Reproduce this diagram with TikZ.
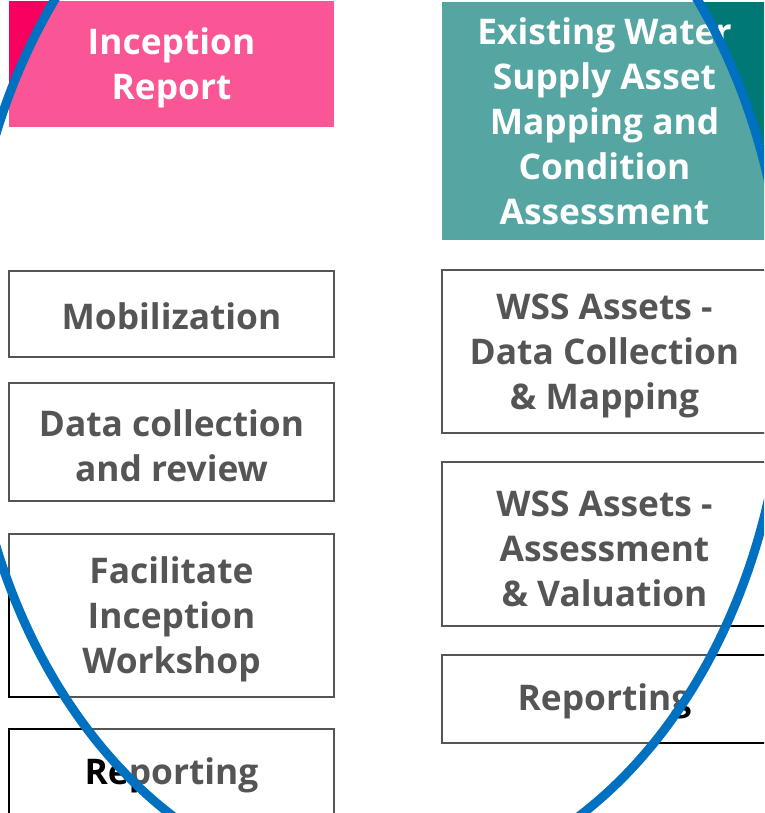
\documentclass[tikz,border=0pt]{standalone}
\usepackage{fontspec}
\setmainfont{Open Sans}
\definecolor{incpink}{RGB}{248,0,96}
\definecolor{assetteal}{RGB}{0,120,118}
\definecolor{ringblue}{RGB}{0,112,192}
\newcommand{\lift}{\rule{0pt}{26pt}}
\tikzset{
  boxfont/.style={font=\bfseries\fontsize{26.5}{33.75}\selectfont},
  stepbox/.style={boxfont, draw=black, line width=1.5pt, fill=white, text=black,
    minimum width=243.75pt, align=center, inner sep=0pt,
    execute at begin node={\rule{0pt}{24pt}}},
  headbox/.style={boxfont, fill=#1, text=white,
    minimum width=243.75pt, align=center, inner sep=0pt}
}

\begin{document}
\begin{tikzpicture}[x=0.75pt, y=-0.75pt]
  \useasboundingbox (0,0) rectangle (764,813);
  \clip (0,0) rectangle (764,813);

  % inception column
  \node [headbox=incpink, minimum height=94.5pt] (inception) at (171.5,64) {\lift Inception\\Report};
  \node [stepbox, minimum height=64.5pt] (mobil) at (171.5,314) {Mobilization};
  \node [stepbox, minimum height=88.5pt] (datareview) at (171.5,442) {\lift Data collection\\and review};
  \node [stepbox, minimum height=122.25pt] (workshop) at (171.5,615.5) {\lift Facilitate\\Inception\\Workshop};
  \node [stepbox, minimum height=66pt] (reportleft) at (171.5,773) {Reporting};

  % asset column
  \node [headbox=assetteal, minimum height=178.5pt] (existing) at (604.5,121)
    {Existing Water\\Supply Asset\\Mapping and\\Condition\\Assessment};
  \node [stepbox, minimum height=122.25pt] (wssmap) at (604.5,351.5) {\lift WSS Assets -\\Data Collection\\\& Mapping};
  \node [stepbox, minimum height=123pt] (wssvalue) at (604.5,544) {\lift WSS Assets -\\Assessment\\\& Valuation};
  \node [stepbox, minimum height=66pt] (reportright) at (604.5,699) {Reporting};

  % ring over both columns
  \fill [white, fill opacity=0.333] (376,340) ellipse [x radius=307.5pt, y radius=411pt];
  \draw [ringblue, line width=6.75pt] (376,340) ellipse [x radius=307.5pt, y radius=411pt];

\end{tikzpicture}
\end{document}
